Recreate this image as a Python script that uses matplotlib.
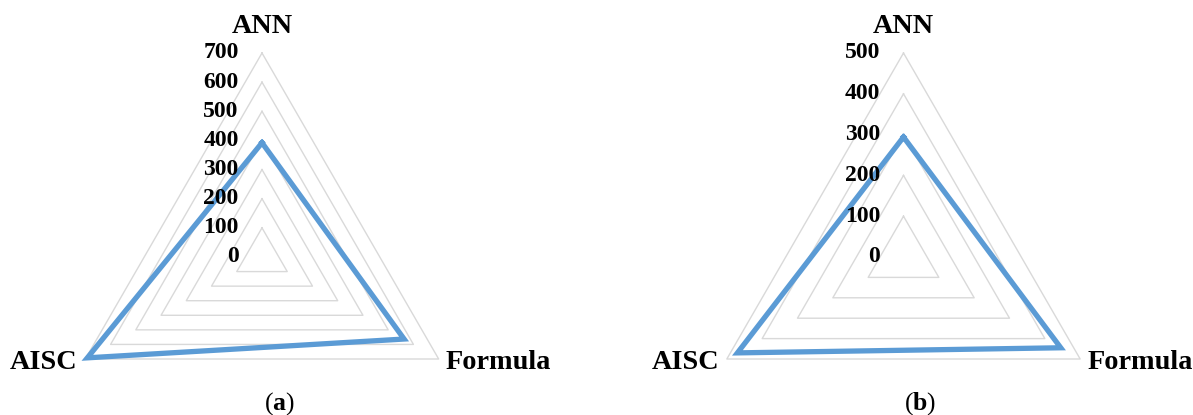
import numpy as np
import matplotlib.pyplot as plt

plt.rcParams["font.family"] = ["Liberation Serif", "DejaVu Serif"]
plt.rcParams["mathtext.fontset"] = "custom"
plt.rcParams["mathtext.rm"] = "Liberation Serif"
plt.rcParams["mathtext.bf"] = "Liberation Serif:bold"

categories = ["ANN", "Formula", "AISC"]
angles_deg = [90, -30, 210]

values_a = [392, 563, 692]
ticks_a = [0, 100, 200, 300, 400, 500, 600, 700]

values_b = [294, 445, 470]
ticks_b = [0, 100, 200, 300, 400, 500]

blue = "#5B9BD5"
grid_col = "#D9D9D9"

W, H = 1193, 415
fig = plt.figure(figsize=(W / 100, H / 100), dpi=100)

# pixel radius of the outer ring
R = 204.0


def radar(left_px, width_px, cx_px, cy_px, values, ticks, tag):
    ax = fig.add_axes([left_px / W, 0, width_px / W, 1])
    ax.set_xlim(-(cx_px - left_px) / R, (left_px + width_px - cx_px) / R)
    ax.set_ylim(-(H - cy_px) / R, cy_px / R)
    ax.axis("off")
    rmax = ticks[-1]
    th = np.radians(angles_deg + angles_deg[:1])

    # triangular grid rings
    for t in ticks[1:]:
        r = t / rmax
        ax.plot(r * np.cos(th), r * np.sin(th), color=grid_col, lw=1.0, zorder=1)

    # data polygon
    r = np.array(values + values[:1]) / rmax
    ax.plot(r * np.cos(th), r * np.sin(th), color=blue, lw=3.8,
            solid_joinstyle="miter", zorder=3)

    # value axis labels
    for t in ticks:
        ax.text(-0.115, t / rmax, str(t), ha="right", va="center",
                fontsize=17, fontweight="bold", zorder=4)

    # category labels
    ax.text(0, 1.13, categories[0], ha="center", va="center",
            fontsize=20.3, fontweight="bold")
    ax.text(0.9, -0.515, categories[1], ha="left", va="center",
            fontsize=20.3, fontweight="bold")
    ax.text(-0.905, -0.515, categories[2], ha="right", va="center",
            fontsize=20.3, fontweight="bold")

    ax.text(0.083, -0.72, r"($\mathbf{%s}$)" % tag, ha="center", va="center",
            fontsize=18.5)
    return ax


radar(0, 596, 262, 257, values_a, ticks_a, "a")
radar(596, 597, 903.5, 257, values_b, ticks_b, "b")

fig.savefig("out.png", dpi=100)
